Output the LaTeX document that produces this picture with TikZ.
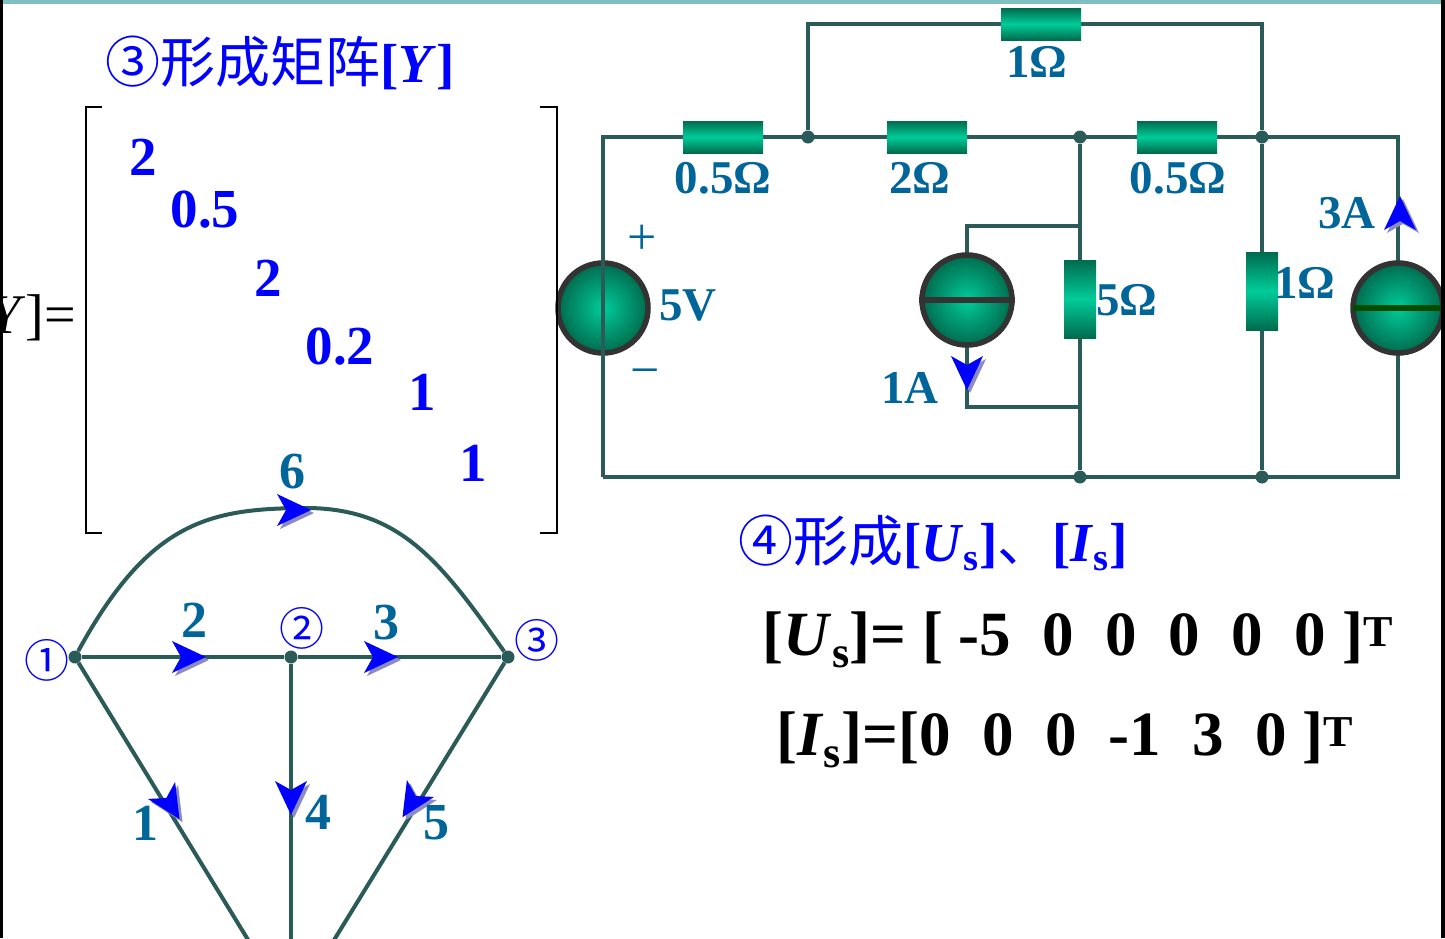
\documentclass[tikz,border=0pt]{standalone}
\usepackage{fontspec}
\setmainfont{Liberation Serif}
\newfontfamily\cjk{Noto Sans CJK SC}
\usetikzlibrary{arrows.meta}
\definecolor{wire}{HTML}{2B5B58}
\definecolor{lab}{HTML}{00669A}
\definecolor{gl}{HTML}{00CC99}
\definecolor{gd}{HTML}{006B4E}
\tikzset{
  w/.style={wire,line width=4pt},
  lbl/.style={text=lab,font=\fontsize{47}{47}\selectfont\bfseries,inner sep=0},
  glbl/.style={text=lab,font=\fontsize{52}{52}\selectfont\bfseries,inner sep=0},
  ent/.style={text=blue,font=\fontsize{55}{55}\selectfont\bfseries,inner sep=0},
  ttl/.style={text=blue,font=\fontsize{55}{55}\selectfont,inner sep=0},
  eq/.style={text=black,font=\fontsize{63}{63}\selectfont\bfseries,inner sep=0},
  circ/.style={text=blue,inner sep=0,font=\fontsize{45}{45}\selectfont\cjk},
  hres/.style={draw=none,minimum width=80pt,minimum height=32pt,inner sep=0,top color=gd,bottom color=gd,middle color=gl},
  vres/.style={draw=none,minimum width=32pt,minimum height=78pt,inner sep=0,left color=gd,right color=gd,middle color=gl,shading angle=0},
  src/.style={circle,minimum size=90pt,inner sep=0,draw=black!80,line width=5.5pt,inner color=gl,outer color=gd},
  dot/.style={circle,fill=wire,minimum size=13pt,inner sep=0},
}
\newcommand{\arr}[3]{\fill[blue!30!gray!70,shift={(#1+3,#2+3)},rotate=#3] (18,0)--(-16,-16)--(-7,0)--(-16,16)--cycle;
  \fill[blue,shift={(#1,#2)},rotate=#3] (18,0)--(-16,-16)--(-7,0)--(-16,16)--cycle;}
\begin{document}
\begin{tikzpicture}[x=1pt,y=-1pt]
\useasboundingbox (0,0) rectangle (1445,938);
\fill[white] (0,0) rectangle (1445,938);
\fill[teal!50] (0,0) rectangle (1445,4);
% ---- circuit
\coordinate (tl) at (603,137); \coordinate (tr) at (1398,137);
\coordinate (bl) at (603,477); \coordinate (br) at (1398,477);
\node[dot] (na) at (808,137) {}; \node[dot] (nb) at (1080,137) {}; \node[dot] (nc) at (1262,137) {};
\node[dot] (nd) at (1080,477) {}; \node[dot] (ne) at (1262,477) {};
\coordinate (ua) at (808,24); \coordinate (ub) at (1262,24);
\draw[w] (bl)--(tl)--(tr)--(br)--(bl);
\draw[w] (na)--(ua)--(ub)--(nc);
\draw[w] (nb)--(nd); \draw[w] (nc)--(ne);
\coordinate (sa) at (967,226); \coordinate (sb) at (967,407);
\draw[w] (1080,226)--(sa)--(sb)--(1080,407);
\node[hres] (r6) at (1041,24) {};
\node[hres] (r1) at (723,137) {};
\node[hres] (r2) at (927,137) {};
\node[hres] (r3) at (1177,137) {};
\node[vres] (r4) at (1080,299) {};
\node[vres] (r5) at (1262,291) {};
\node[src] (v5) at (603,308) {}; \draw[w] (v5.north)--(v5.south);
\node[src] (i1) at (967,300) {}; \draw[black!80,line width=5.5pt] (i1.west)--(i1.east);
\node[src] (i3) at (1398,308) {}; \draw[green!30!black,line width=5.5pt] ([xshift=3pt]i3.west)--([xshift=-3pt]i3.east);
\arr{967}{372}{-90}
\arr{1400}{214}{90}
\node[lbl] at (1037,62) {1Ω};
\node[lbl] at (723,178) {0.5Ω};
\node[lbl] at (920,178) {2Ω};
\node[lbl] at (1178,178) {0.5Ω};
\node[lbl,font=\fontsize{52}{52}\selectfont] at (642,240) {+};
\node[lbl] at (688,305) {5V};
\node[lbl,font=\fontsize{52}{52}\selectfont] at (645,378) {−};
\node[lbl] at (910,388) {1A};
\node[lbl] at (1127,300) {5Ω};
\node[lbl] at (1305,283) {1Ω};
\node[lbl] at (1347,213) {3A};
% ---- matrix
\node[ttl] (t3) at (280,63) {{\cjk ③形成矩阵}\textbf{[\textit{Y}]}};
\node[text=black,font=\fontsize{56}{56}\selectfont,inner sep=0,anchor=east] (yeq) at (76,318) {[\textit{Y}]=};
\draw[black,line width=1.5pt] (102,107)--(86,107)--(86,533)--(102,533);
\draw[black,line width=1.5pt] (540,107)--(557,107)--(557,533)--(540,533);
\node[ent] at (143,157) {2};
\node[ent] at (205,210) {0.5};
\node[ent] at (268,278) {2};
\node[ent] at (340,347) {0.2};
\node[ent] at (422,392) {1};
\node[ent] at (473,463) {1};
% ---- graph
\node[dot] (g1) at (75,657) {}; \node[dot] (g2) at (291,657) {}; \node[dot] (g3) at (508,657) {};
\coordinate (g4) at (291,1010);
\draw[w] (g1) .. controls (150,520) and (210,508) .. (310,508) .. controls (400,510) and (440,560) .. (g3);
\draw[w] (g1)--(g2)--(g3);
\draw[w] (g1)--(g4); \draw[w] (g2)--(g4); \draw[w] (g3)--(g4);
\arr{293}{510}{0}
\arr{188}{657}{0}
\arr{380}{657}{0}
\arr{170}{804}{-58}
\arr{291}{797}{-90}
\arr{412}{802}{-122}
\node[glbl] at (292,472) {6};
\node[glbl] at (194,620) {2};
\node[glbl] at (386,623) {3};
\node[glbl] at (145,823) {1};
\node[glbl] at (318,812) {4};
\node[glbl] at (436,823) {5};
\node[circ] at (47,660) {①};
\node[circ] at (302,628) {②};
\node[circ] at (537,640) {③};
% ---- vectors
\node[ttl] (t4) at (933,543) {{\cjk ④形成}\textbf{[\textit{U}\textsubscript{s}]}{\cjk 、}\textbf{[\textit{I}\textsubscript{s}]}};
\node[eq] (us) at (1078,640) {[\textit{U}\textsubscript{s}]= [ -5\ \ 0\ \ 0\ \ 0\ \ 0\ \ 0 ]\textsuperscript{T}};
\node[eq] (is) at (1065,740) {[\textit{I}\textsubscript{s}]=[0\ \ 0\ \ 0\ \ -1\ \ 3\ \ 0 ]\textsuperscript{T}};
\fill[black] (0,0) rectangle (3,938);
\fill[black] (1441,0) rectangle (1445,938);
\end{tikzpicture}
\end{document}
